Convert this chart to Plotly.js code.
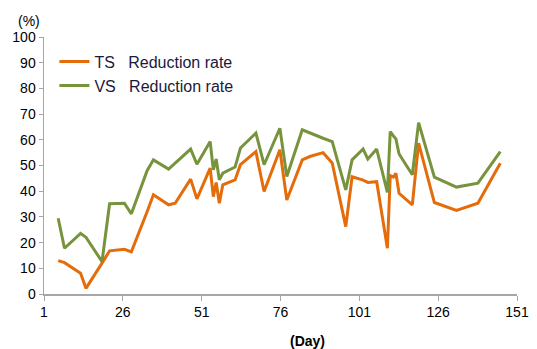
<!DOCTYPE html>
<html>
<head>
<meta charset="utf-8">
<script src="https://cdn.plot.ly/plotly-3.0.1.min.js"></script>
<style>html,body{margin:0;padding:0;background:#fff;}#chart{width:537px;height:349px;}</style>
</head>
<body>
<div id="chart"></div>
<script>
const days = [5.5,7.5,12.6,14.3,19.4,21.8,26.5,28.7,33.7,35.7,40.5,42.6,47.5,49.5,53.7,54.7,55.6,56.6,57.7,61.6,63.3,68.2,70.8,75.8,78.0,82.9,85.3,89.5,92.4,96.7,98.7,102.2,103.7,106.5,109.9,110.8,111.8,112.6,113.6,117.8,119.8,124.8,131.8,138.6,145.7];
const tsRate = [13.0,12.2,8.1,2.2,12.0,16.8,17.4,16.4,32.0,38.6,34.7,35.3,44.7,37.0,49.0,37.9,43.4,35.3,42.5,44.4,50.3,55.4,39.9,56.1,36.6,52.2,53.5,55.0,51.0,26.2,45.6,44.3,43.4,43.7,17.8,46.1,45.5,47.0,39.2,34.7,58.7,35.6,32.5,35.3,50.9];
const vsRate = [29.5,17.8,23.6,22.1,12.6,35.1,35.3,31.2,48.0,52.2,48.6,50.9,56.4,50.5,59.3,48.3,52.5,44.4,47.0,49.4,56.8,62.6,50.3,64.5,45.7,63.9,62.6,60.6,59.3,40.5,52.2,56.4,52.5,56.4,39.5,63.2,61.5,60.3,54.5,46.4,66.7,45.5,41.6,43.1,55.4];
const xTicks = [1,26,51,76,101,126,151];
const yTicks = [0,10,20,30,40,50,60,70,80,90,100];
const seriesNames = ['TS\u00a0\u00a0 Reduction rate','VS\u00a0\u00a0 Reduction rate'];

const traces = [
  {x: days, y: tsRate, name: seriesNames[0], type: 'scatter', mode: 'lines',
   line: {color: '#E46C0A', width: 3}},
  {x: days, y: vsRate, name: seriesNames[1], type: 'scatter', mode: 'lines',
   line: {color: '#77933C', width: 3}}
];

const axisFont = {family: 'Liberation Sans, Arial, sans-serif', size: 14, color: '#000'};
const layout = {
  width: 537, height: 349,
  margin: {l: 43.5, r: 19.5, t: 37, b: 55},
  paper_bgcolor: '#fff', plot_bgcolor: '#fff',
  showlegend: true,
  legend: {x: 0.022, y: 0.97, xanchor: 'left', yanchor: 'top', bgcolor: 'rgba(0,0,0,0)',
    font: {family: 'Liberation Sans, Arial, sans-serif', size: 16, color: '#1a1a3a'},
    itemwidth: 30, tracegroupgap: 0},
  xaxis: {range: [1, 151], tickvals: xTicks, ticktext: xTicks.map(String),
    showgrid: false, zeroline: false, showline: true, linecolor: '#a6a6a6', linewidth: 1.5,
    ticks: 'outside', ticklen: 5, tickcolor: '#a6a6a6', tickfont: axisFont},
  yaxis: {range: [0, 100], tickvals: yTicks, ticktext: yTicks.map(String),
    showgrid: false, zeroline: false, showline: true, linecolor: '#a6a6a6', linewidth: 1.5,
    ticks: 'outside', ticklen: 4, tickcolor: '#a6a6a6', tickfont: axisFont},
  annotations: [
    {text: '(%)', xref: 'paper', yref: 'paper', x: -0.031, y: 1.062, showarrow: false,
     xanchor: 'center', yanchor: 'middle', font: axisFont},
    {text: '<b>(Day)</b>', xref: 'paper', yref: 'paper', x: 0.558, y: -0.183, showarrow: false,
     xanchor: 'center', yanchor: 'middle', font: axisFont}
  ]
};
Plotly.newPlot('chart', traces, layout, {displayModeBar: false, staticPlot: true});
</script>
</body>
</html>
